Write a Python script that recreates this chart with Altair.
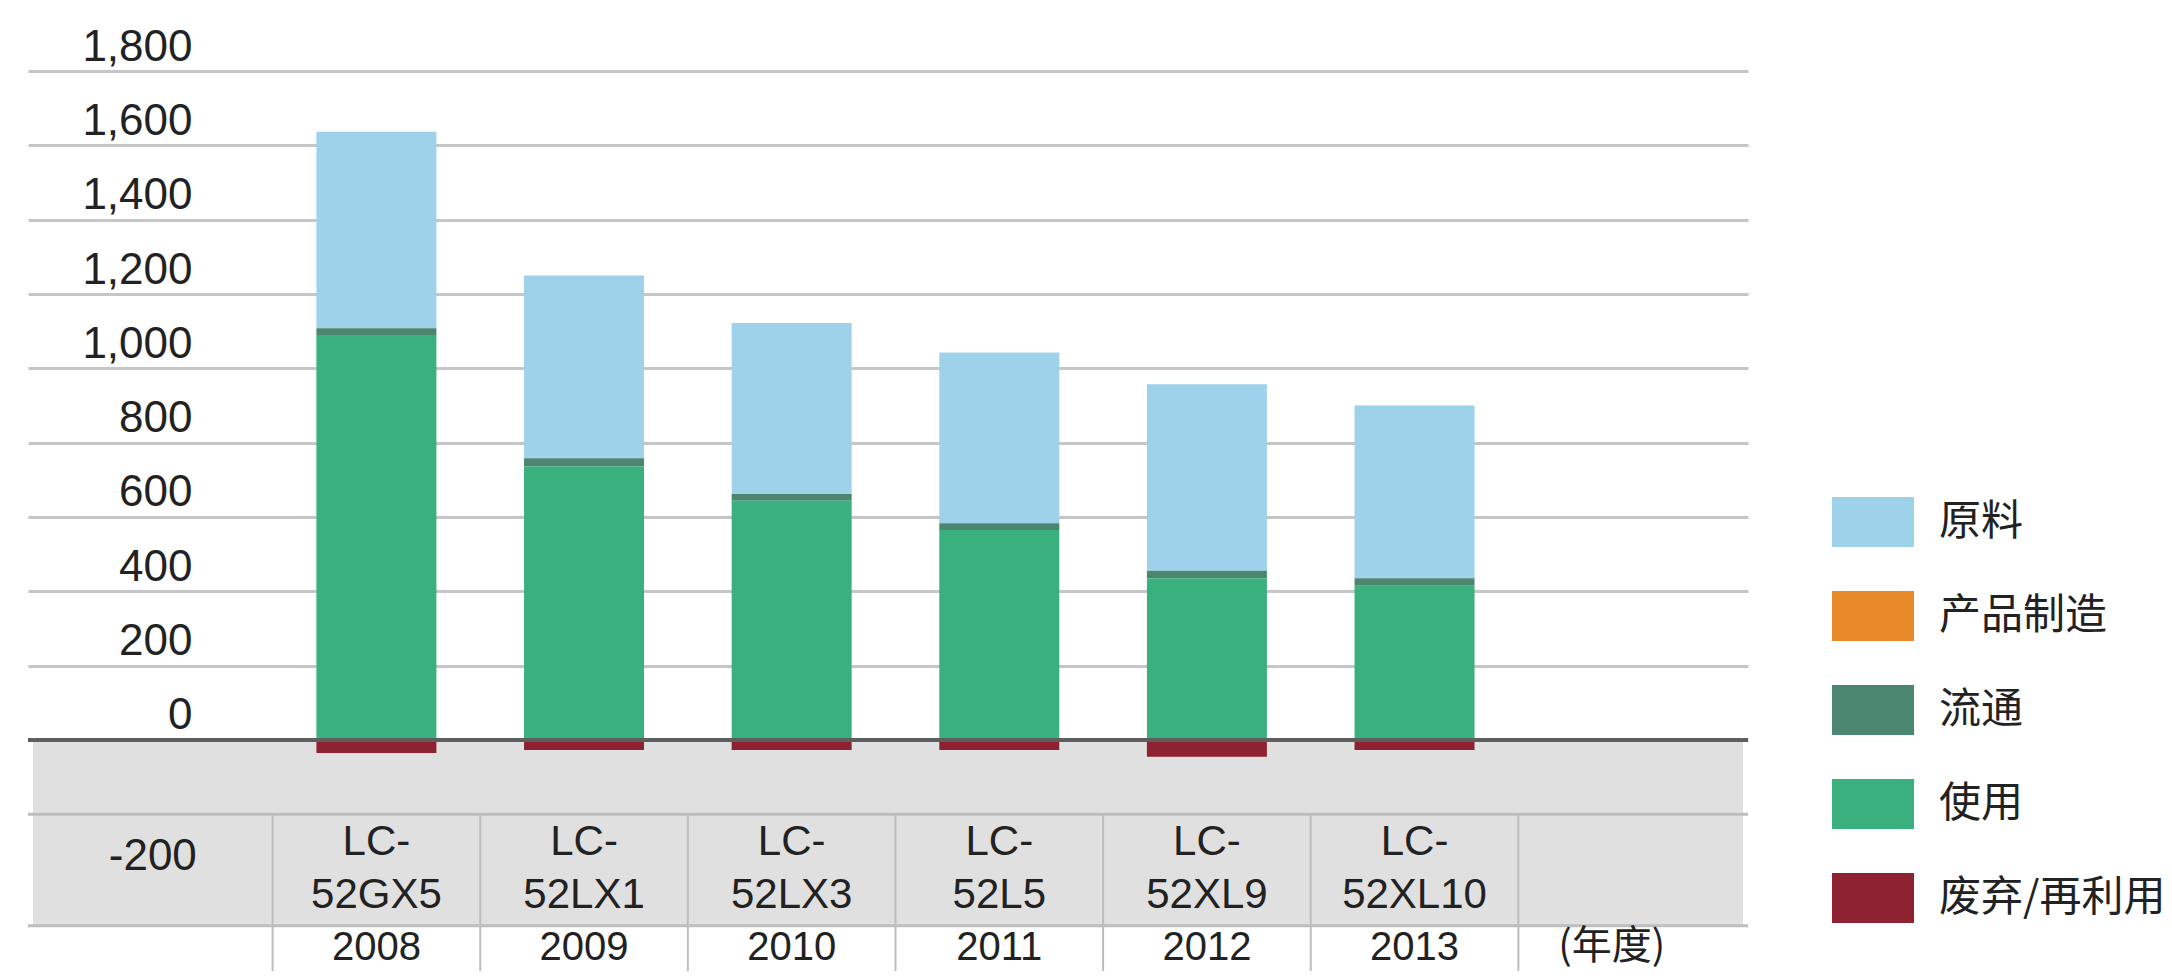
import altair as alt
import pandas as pd

# ---------------- data ----------------
years = [2008, 2009, 2010, 2011, 2012, 2013]
model_prefix = "LC-"
models = ["52GX5", "52LX1", "52LX3", "52L5", "52XL9", "52XL10"]
stages = ["原料", "产品制造", "流通", "使用", "废弃/再利用"]
stage_colors = ["#9DD2EA", "#E8892A", "#4B8670", "#3BB07F", "#8E2230"]

raw_material = [529, 492, 460, 460, 502, 465]
manufacturing = [0, 0, 0, 0, 0, 0]
distribution = [18, 22, 18, 18, 20, 20]
use_phase = [1090, 736, 644, 565, 435, 415]
disposal = [-35, -27, -27, -27, -45, -27]

y_ticks = [0, 200, 400, 600, 800, 1000, 1200, 1400, 1600, 1800]
table_label_value = -200        # axis value of the table row line
table_band_bottom = -500        # bottom of grey band
unit_label = "(年度)"

# scale domains
x_domain = [2006.346, 2014.582]
y_domain = [-622, 1970]

# ---------------- tables ----------------
series = {
    "原料": raw_material,
    "产品制造": manufacturing,
    "流通": distribution,
    "使用": use_phase,
    "废弃/再利用": disposal,
}
stack_order = {"使用": 0, "流通": 1, "产品制造": 2, "原料": 3, "废弃/再利用": 4}
rows = []
for s, vals in series.items():
    for y, v in zip(years, vals):
        rows.append({"year": y, "stage": s, "value": v, "ord": stack_order[s]})
df = pd.DataFrame(rows)

xscale = alt.Scale(domain=x_domain, nice=False, zero=False)
yscale = alt.Scale(domain=y_domain, nice=False, zero=False)
yaxis = alt.Axis(values=y_ticks, format=",d", grid=True, gridColor="#C6C6C6",
                 gridWidth=3, domain=False, ticks=False, labelPadding=-164,
                 labelOffset=-24, labelFont="Liberation Sans", labelFontSize=44,
                 labelColor="#222222", labelAlign="right", labelBaseline="middle",
                 title=None)

def X(field, **kw):
    return alt.X(field, scale=xscale, axis=None, **kw)

def Y(field, **kw):
    return alt.Y(field, scale=yscale, axis=yaxis, **kw)

band_df = pd.DataFrame([{"x": x_domain[0], "x2": x_domain[1],
                         "y": 0, "y2": table_band_bottom}])
band = alt.Chart(band_df).mark_rect(color="#E0E0E0").encode(
    x=X("x:Q"), x2="x2:Q", y=Y("y:Q"), y2="y2:Q")

div_x = [y - 0.5 for y in years] + [years[-1] + 0.5]
div_df = pd.DataFrame({"x": div_x, "y": table_label_value, "y2": y_domain[0]})
dividers = alt.Chart(div_df).mark_rule(color="#BDBDBD", strokeWidth=2).encode(
    x=X("x:Q"), y=Y("y:Q"), y2="y2:Q")

hl_df = pd.DataFrame({"v": [table_label_value, table_band_bottom]})
hlines = alt.Chart(hl_df).mark_rule(color="#BEBEBE", strokeWidth=3).encode(
    y=Y("v:Q"))

legend = alt.Legend(orient="none", legendX=1804, legendY=473, title=None,
                    symbolType="M-1,-0.61H1V0.61H-1Z", symbolSize=6724,
                    symbolStrokeWidth=0, symbolOpacity=1,
                    labelFont="Noto Sans CJK SC", labelFontSize=42,
                    labelColor="#222222", labelOffset=25, rowPadding=27,
                    labelLimit=500)

bars = alt.Chart(df).mark_bar(size=120).encode(
    x=X("year:Q"),
    y=Y("value:Q", stack="zero"),
    color=alt.Color("stage:N", scale=alt.Scale(domain=stages, range=stage_colors),
                    legend=legend),
    order=alt.Order("ord:Q"),
)

zero_df = pd.DataFrame({"v": [0]})
zero_rule = alt.Chart(zero_df).mark_rule(color="#5E5E5E", strokeWidth=4).encode(
    y=Y("v:Q"))

tbl = pd.DataFrame({"year": years, "model": models, "prefix": model_prefix,
                    "ylab": [str(y) for y in years],
                    "row": table_label_value, "bot": table_band_bottom})
txt_style = dict(font="Liberation Sans", fontSize=42, color="#222222",
                 align="center", baseline="middle")
prefix_txt = alt.Chart(tbl).mark_text(dy=28, **txt_style).encode(
    x=X("year:Q"), y=Y("row:Q"), text="prefix:N")
model_txt = alt.Chart(tbl).mark_text(dy=81, **txt_style).encode(
    x=X("year:Q"), y=Y("row:Q"), text="model:N")
year_txt = alt.Chart(tbl).mark_text(dy=22, font="Liberation Sans", fontSize=40,
                                    color="#222222", align="center",
                                    baseline="middle").encode(
    x=X("year:Q"), y=Y("bot:Q"), text="ylab:N")

neg_df = pd.DataFrame([{"x": (x_domain[0] + years[0] - 0.5) / 2,
                        "v": table_label_value, "t": f"{table_label_value}"}])
neg_txt = alt.Chart(neg_df).mark_text(dy=43, font="Liberation Sans", fontSize=44,
                                      color="#222222", align="center",
                                      baseline="middle").encode(
    x=X("x:Q"), y=Y("v:Q"), text="t:N")

unit_df = pd.DataFrame([{"x": 2013.95, "v": table_band_bottom, "t": unit_label}])
unit_txt = alt.Chart(unit_df).mark_text(dy=21, font="Noto Sans CJK SC", fontSize=40,
                                        color="#222222", align="center",
                                        baseline="middle").encode(
    x=X("x:Q"), y=Y("v:Q"), text="t:N")

chart = alt.layer(band, dividers, hlines, bars, zero_rule, prefix_txt, model_txt,
                  year_txt, neg_txt, unit_txt).properties(
    width=1720, height=963,
    padding={"left": 20, "top": 0, "right": 416, "bottom": 0},
    autosize=alt.AutoSizeParams(type="none"),
).configure_view(stroke=None)

chart.save("out.html", embed_options={"renderer": "svg", "actions": False})
